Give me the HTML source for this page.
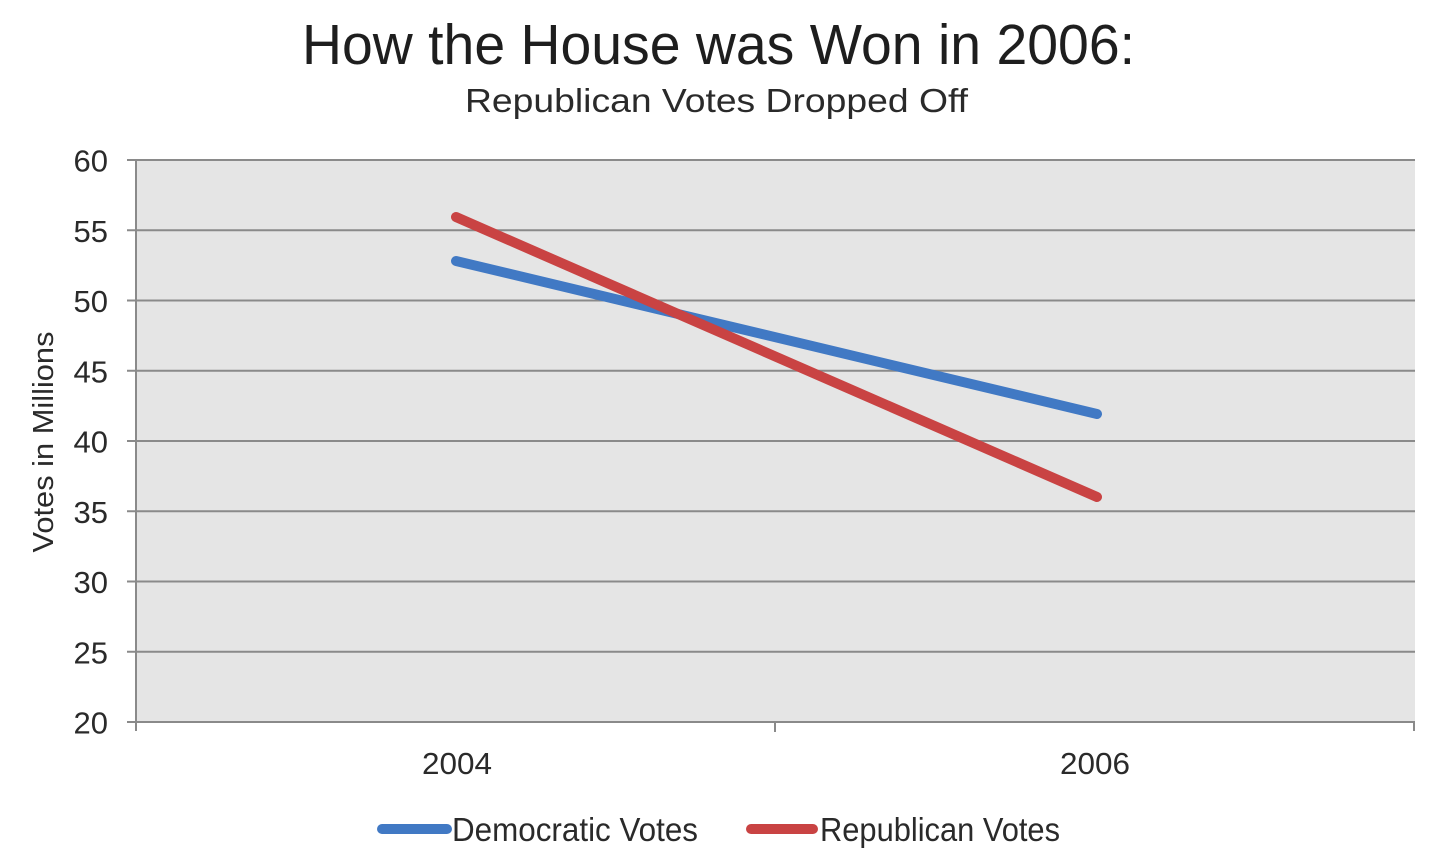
<!DOCTYPE html>
<html>
<head>
<meta charset="utf-8">
<style>
  html, body { margin: 0; padding: 0; background: #ffffff; }
  svg { display: block; }
  text { font-family: "Liberation Sans", "DejaVu Sans", sans-serif; }
</style>
</head>
<body>
<svg width="1440" height="859" viewBox="0 0 1440 859" xmlns="http://www.w3.org/2000/svg">
  <rect x="0" y="0" width="1440" height="859" fill="#ffffff"/>

  <!-- Title -->
  <text x="302" y="64" font-size="57" fill="#1e1e1e" textLength="833" lengthAdjust="spacingAndGlyphs">How the House was Won in 2006:</text>
  <text x="465" y="112" font-size="33" fill="#2a2a2a" textLength="503" lengthAdjust="spacingAndGlyphs">Republican Votes Dropped Off</text>

  <!-- Plot background -->
  <rect x="137" y="160" width="1278" height="562" fill="#e5e5e5"/>

  <!-- Gridlines -->
  <g stroke="#8a8a8a" stroke-width="2">
    <line x1="127" y1="160" x2="1415" y2="160"/>
    <line x1="127" y1="230.25" x2="1415" y2="230.25"/>
    <line x1="127" y1="300.5" x2="1415" y2="300.5"/>
    <line x1="127" y1="370.75" x2="1415" y2="370.75"/>
    <line x1="127" y1="441" x2="1415" y2="441"/>
    <line x1="127" y1="511.25" x2="1415" y2="511.25"/>
    <line x1="127" y1="581.5" x2="1415" y2="581.5"/>
    <line x1="127" y1="651.75" x2="1415" y2="651.75"/>
    <line x1="127" y1="722" x2="1415" y2="722"/>
    <!-- left axis -->
    <line x1="136" y1="159" x2="136" y2="731"/>
    <!-- bottom ticks -->
    <line x1="775" y1="722" x2="775" y2="732"/>
    <line x1="1414" y1="722" x2="1414" y2="731"/>
  </g>

  <!-- Y tick labels -->
  <g font-size="31" fill="#2a2a2a" text-anchor="end">
    <text x="108" y="171.5">60</text>
    <text x="108" y="241.75">55</text>
    <text x="108" y="312">50</text>
    <text x="108" y="382.25">45</text>
    <text x="108" y="452.5">40</text>
    <text x="108" y="522.75">35</text>
    <text x="108" y="593">30</text>
    <text x="108" y="663.25">25</text>
    <text x="108" y="733.5">20</text>
  </g>

  <!-- Y axis title -->
  <text transform="translate(53,442) rotate(-90)" x="0" y="0" font-size="29" fill="#2a2a2a" text-anchor="middle" textLength="221" lengthAdjust="spacingAndGlyphs">Votes in Millions</text>

  <!-- X labels -->
  <text x="422" y="774" font-size="31" fill="#2a2a2a" textLength="70" lengthAdjust="spacingAndGlyphs">2004</text>
  <text x="1060" y="774" font-size="31" fill="#2a2a2a" textLength="70" lengthAdjust="spacingAndGlyphs">2006</text>

  <!-- Series -->
  <line x1="456" y1="261" x2="1097" y2="414" stroke="#4179c4" stroke-width="10" stroke-linecap="round"/>
  <line x1="456" y1="217" x2="1097" y2="497" stroke="#c94343" stroke-width="10" stroke-linecap="round"/>

  <!-- Legend -->
  <line x1="382" y1="829" x2="447" y2="829" stroke="#4179c4" stroke-width="10" stroke-linecap="round"/>
  <text x="452" y="841" font-size="33" fill="#2a2a2a" textLength="246" lengthAdjust="spacingAndGlyphs">Democratic Votes</text>
  <line x1="751" y1="829" x2="813" y2="829" stroke="#c94343" stroke-width="10" stroke-linecap="round"/>
  <text x="820" y="841" font-size="33" fill="#2a2a2a" textLength="240" lengthAdjust="spacingAndGlyphs">Republican Votes</text>
</svg>
</body>
</html>
